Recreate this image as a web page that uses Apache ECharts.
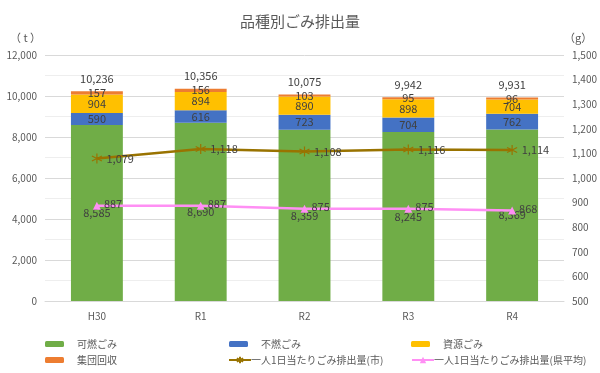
<!DOCTYPE html>
<html><head><meta charset="utf-8">
<script src="https://cdn.jsdelivr.net/npm/echarts@6/dist/echarts.min.js"></script>
<style>html,body{margin:0;padding:0;background:#fff}#c{width:600px;height:373px}</style>
</head><body><div id="c"></div>
<script>
const categories = ['H30', 'R1', 'R2', 'R3', 'R4'];
const combustible = [8585, 8690, 8359, 8245, 8369];
const incombustible = [590, 616, 723, 704, 762];
const resources = [904, 894, 890, 898, 704];
const groupCollection = [157, 156, 103, 95, 96];
const totals = [10236, 10356, 10075, 9942, 9931];
const perCapitaCity = [1079, 1118, 1108, 1116, 1114];
const perCapitaPref = [887, 887, 875, 875, 868];
const leftTicks = [0, 12000, 2000];
const rightTicks = [500, 1500, 100];

const FONT = '"Noto Sans CJK JP", "Noto Sans", sans-serif';
const fmt = v => Number(v).toLocaleString('en-US');
const labelStyle = {show: true, position: 'inside', color: '#404040', fontSize: 11, fontFamily: FONT,
  formatter: p => fmt(p.value)};
const asterisk = 'path://M0,-5L0,5M-4.3,-2.5L4.3,2.5M-4.3,2.5L4.3,-2.5';

const chart = echarts.init(document.getElementById('c'));
function barLegend(name, left, top) {
  return {data: [name], left: left, top: top, itemWidth: 19, itemHeight: 6,
    textStyle: {color: '#595959', fontSize: 10, fontFamily: FONT, padding: [0, 0, 0, 8]}};
}
function lineLegend(name, left, top) {
  return {data: [name], left: left, top: top, itemWidth: 22, itemHeight: 8, itemGap: 0,
    textStyle: {color: '#595959', fontSize: 10, fontFamily: FONT, padding: [0, 0, 0, -5]}};
}
chart.setOption({
  animation: false,
  textStyle: {fontFamily: FONT},
  title: {text: '品種別ごみ排出量', left: 'center', top: 9,
    textStyle: {color: '#595959', fontSize: 15, fontWeight: 'normal', fontFamily: FONT}},
  legend: [
    barLegend('可燃ごみ', 40, 334),
    barLegend('不燃ごみ', 224, 334),
    barLegend('資源ごみ', 406, 334),
    barLegend('集団回収', 40, 350),
    lineLegend('一人1日当たりごみ排出量(市)', 223, 350),
    lineLegend('一人1日当たりごみ排出量(県平均)', 406, 350)
  ],
  grid: {left: 45, right: 35, top: 55, bottom: 72},
  xAxis: {type: 'category', data: categories,
    axisLine: {lineStyle: {color: '#d9d9d9'}}, axisTick: {show: false},
    axisLabel: {color: '#595959', fontSize: 10, margin: 10}},
  yAxis: [
    {type: 'value', min: leftTicks[0], max: leftTicks[1], interval: leftTicks[2],
      name: '（ t ）', nameLocation: 'end', nameGap: 12,
      nameTextStyle: {color: '#595959', fontSize: 11, align: 'right', padding: [0, 4, 0, 0]},
      axisLabel: {color: '#595959', fontSize: 10, formatter: v => fmt(v), margin: 8},
      axisLine: {show: false}, axisTick: {show: false},
      splitLine: {lineStyle: {color: '#d9d9d9'}},
      minorTick: {show: false, splitNumber: 2},
      minorSplitLine: {show: true, lineStyle: {color: '#eeeeee'}}},
    {type: 'value', min: rightTicks[0], max: rightTicks[1], interval: rightTicks[2],
      name: '（g）', nameLocation: 'end', nameGap: 12,
      nameTextStyle: {color: '#595959', fontSize: 11, align: 'left', padding: [0, 0, 0, 0]},
      axisLabel: {color: '#595959', fontSize: 10, formatter: v => fmt(v), margin: 8},
      axisLine: {show: false}, axisTick: {show: false}, splitLine: {show: false}}
  ],
  series: [
    {name: '可燃ごみ', type: 'bar', stack: 't', barWidth: '50%', data: combustible,
      itemStyle: {color: '#70AD47'}, label: labelStyle},
    {name: '不燃ごみ', type: 'bar', stack: 't', data: incombustible,
      itemStyle: {color: '#4472C4'}, label: labelStyle},
    {name: '資源ごみ', type: 'bar', stack: 't', data: resources,
      itemStyle: {color: '#FFC000'}, label: labelStyle},
    {name: '集団回収', type: 'bar', stack: 't', data: groupCollection,
      itemStyle: {color: '#ED7D31'}, label: labelStyle},
    {name: '合計', type: 'line', data: totals, symbol: 'circle', symbolSize: 2,
      itemStyle: {color: 'rgba(0,0,0,0)', borderWidth: 0}, lineStyle: {width: 0, color: 'rgba(0,0,0,0)'},
      label: {show: true, position: 'top', distance: 6, color: '#404040', fontSize: 11, formatter: p => fmt(p.value)},
      z: 5},
    {name: '一人1日当たりごみ排出量(市)', type: 'line', yAxisIndex: 1, data: perCapitaCity,
      symbol: asterisk, symbolSize: 10,
      itemStyle: {color: '#997300', borderColor: '#997300', borderWidth: 1.2},
      lineStyle: {color: '#997300', width: 2.5},
      label: {show: true, position: 'right', distance: 4, color: '#404040', fontSize: 11, formatter: p => fmt(p.value)}, z: 6},
    {name: '一人1日当たりごみ排出量(県平均)', type: 'line', yAxisIndex: 1, data: perCapitaPref,
      symbol: 'triangle', symbolSize: 8,
      itemStyle: {color: '#FF8FF4'}, lineStyle: {color: '#FF8FF4', width: 2.5},
      label: {show: true, position: 'right', distance: 3, offset: [0, -2], color: '#404040', fontSize: 11, formatter: p => fmt(p.value)}, z: 6}
  ]
});
</script></body></html>
